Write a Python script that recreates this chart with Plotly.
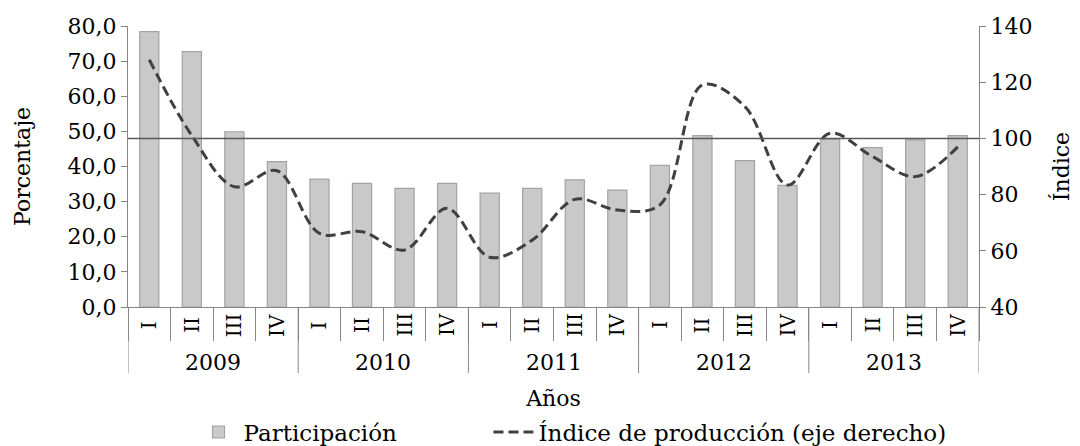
import plotly.graph_objects as go

years = ["2009", "2010", "2011", "2012", "2013"]
quarters = ["I", "II", "III", "IV"]
participacion = [78.4, 72.7, 49.9, 41.4, 36.4, 35.2, 33.8, 35.2, 32.4, 33.8,
                 36.2, 33.3, 40.3, 48.8, 41.7, 34.6, 47.8, 45.4, 47.6, 48.8]
indice = [128, 101, 82.8, 88.5, 66.2, 66.8, 60.3, 75.1, 57.7, 63.8,
          78.3, 74.5, 76.3, 119, 111.3, 83.4, 101.8, 93.5, 86.4, 97]
ref_value = 100

x_labels = [f"{y} {q}" for y in years for q in quarters]
nq = len(quarters)

FONT = "DejaVu Serif"
AXIS_COLOR = "#868686"

fig = go.Figure()
fig.add_trace(go.Bar(
    x=x_labels, y=participacion, name="Participación",
    marker=dict(color="#c9c9c9", line=dict(color="#a3a3a3", width=1.2)),
    width=0.45, yaxis="y", legend="legend",
))
fig.add_trace(go.Scatter(
    x=x_labels, y=indice, name="Índice de producción (eje derecho)",
    mode="lines", line=dict(color="#404040", width=3, dash="10px,5px", shape="spline", smoothing=1),
    yaxis="y2", legend="legend2",
))

fig.add_shape(type="line", xref="paper", x0=0, x1=1, yref="y2", y0=ref_value, y1=ref_value,
              line=dict(color="#595959", width=1.5), layer="above")

# quarter labels (rotated), year group labels and dividers
for k, yr in enumerate(years):
    for j, q in enumerate(quarters):
        fig.add_annotation(x=k * nq + j, xref="x", y=-0.064, yref="paper",
                           text=q, showarrow=False, textangle=-90,
                           xanchor="center", yanchor="middle",
                           font=dict(family=FONT, size=20, color="#000000"))
    fig.add_annotation(x=k * nq + (nq - 1) / 2, xref="x", y=-0.196, yref="paper",
                       text=yr, showarrow=False, yanchor="middle",
                       font=dict(family=FONT, size=22, color="#000000"))
for k in range(len(years) + 1):
    fig.add_shape(type="line", xref="x", x0=k * nq - 0.5, x1=k * nq - 0.5,
                  yref="paper", y0=0, y1=-0.235,
                  line=dict(color=AXIS_COLOR, width=1))

legend_common = dict(orientation="h", y=-0.445, yanchor="middle",
                     font=dict(family=FONT, size=23, color="#000000"), itemwidth=40,
                     bgcolor="rgba(0,0,0,0)")

fig.update_layout(
    width=1072, height=438,
    margin=dict(l=120, r=101, t=18, b=139, autoexpand=False),
    paper_bgcolor="white", plot_bgcolor="white",
    font=dict(family=FONT, size=22, color="#000000"),
    separators=",.",
    showlegend=True,
    legend=dict(x=0.077, xanchor="left", **legend_common),
    legend2=dict(x=0.4236, xanchor="left", **legend_common),
    xaxis=dict(
        type="category", automargin=False,
        showticklabels=False,
        showline=True, linecolor=AXIS_COLOR, linewidth=1,
        ticks="outside", tickson="boundaries", ticklen=33, tickcolor=AXIS_COLOR,
        showgrid=False, range=[-0.5, len(x_labels) - 0.5],
        title=dict(text="Años", font=dict(size=22), standoff=83),
    ),
    yaxis=dict(
        range=[0, 80], dtick=10, tickformat=".1f", automargin=False,
        showline=True, linecolor=AXIS_COLOR, linewidth=1,
        ticks="outside", ticklen=6, tickcolor=AXIS_COLOR,
        showgrid=False, zeroline=False,
        title=dict(text="Porcentaje", font=dict(size=22), standoff=30),
    ),
    yaxis2=dict(
        range=[40, 140], dtick=20, overlaying="y", side="right", automargin=False,
        showline=True, linecolor=AXIS_COLOR, linewidth=1,
        ticks="outside", ticklen=6, tickcolor=AXIS_COLOR,
        showgrid=False, zeroline=False,
        title=dict(text="Índice", font=dict(size=22), standoff=22),
    ),
)

fig.write_html("out.html")
